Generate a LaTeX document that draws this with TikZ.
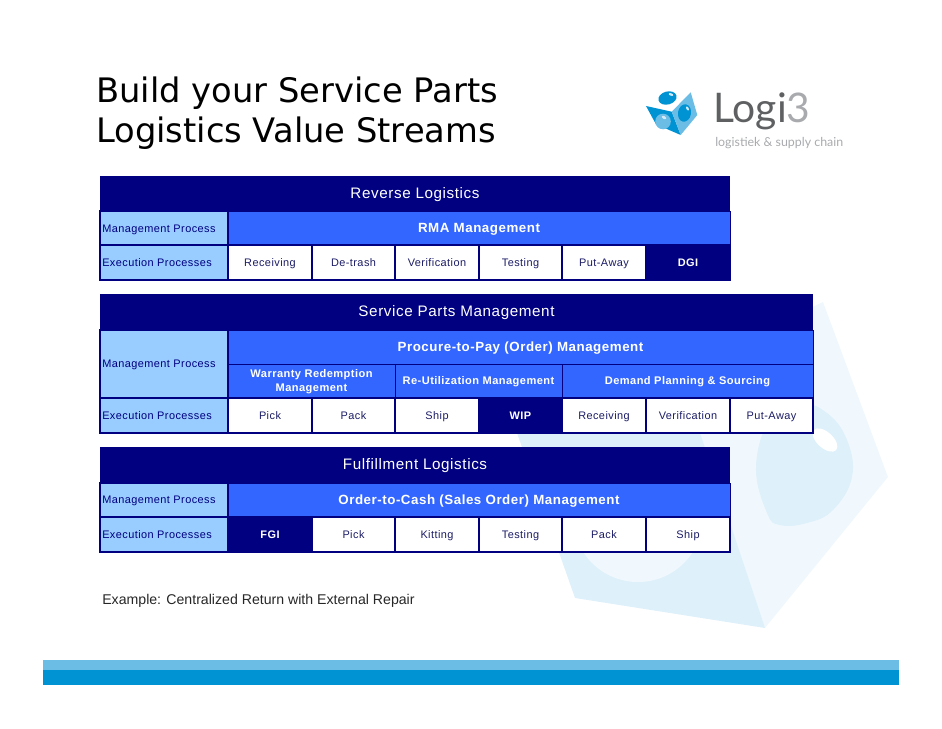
\documentclass[tikz,border=0pt]{standalone}
\usepackage{fontspec}
\setmainfont{Liberation Sans}
\newfontfamily\titlefont{DejaVu Sans}
\newfontfamily\cellfont[LetterSpace=4]{Liberation Sans}
\newfontfamily\logofont{Lato}
\definecolor{navyband}{HTML}{000080}
\definecolor{midband}{HTML}{3366FF}
\definecolor{paleband}{HTML}{99CCFF}
\definecolor{inktext}{HTML}{1C1C66}
\definecolor{washa}{HTML}{DEF0FA}
\definecolor{washb}{HTML}{F0F8FD}
\definecolor{barlight}{HTML}{6CBDE6}
\definecolor{bardark}{HTML}{0093D3}
\definecolor{logogrey}{HTML}{5F6062}
\definecolor{logopale}{HTML}{A8AAAD}
\tikzset{
  headcell/.style={fill=navyband},
  headtext/.style={text=white,font=\cellfont\fontsize{11.4}{13}\selectfont,inner sep=0pt,text height=8.4pt,text depth=2.4pt,yshift=-0.4pt},
  mgmtcell/.style={fill=midband,draw=navyband,line width=0.6pt},
  mgmttext/.style={text=white,font=\cellfont\bfseries\fontsize{10}{12}\selectfont,inner sep=0pt,text height=7.4pt,text depth=2.1pt,yshift=-0.7pt},
  subtext/.style={text=white,font=\cellfont\bfseries\fontsize{8.3}{10.8}\selectfont,inner sep=0pt,align=center,yshift=-0.5pt},
  labelcell/.style={fill=paleband,draw=navyband,line width=0.85pt},
  labeltext/.style={text=navyband,font=\cellfont\fontsize{8.2}{10}\selectfont,inner sep=0pt,anchor=west,text height=6.2pt,text depth=1.8pt,yshift=-1.2pt},
  whitecell/.style={fill=white,draw=navyband,line width=0.85pt},
  whitetext/.style={text=inktext,font=\cellfont\fontsize{8.2}{10}\selectfont,inner sep=0pt,text height=6.2pt,text depth=1.8pt,yshift=-0.8pt},
  darkcell/.style={fill=navyband,draw=navyband,line width=0.85pt},
  darktext/.style={text=white,font=\cellfont\bfseries\fontsize{8.2}{10}\selectfont,inner sep=0pt,text height=6.2pt,text depth=1.8pt,yshift=-0.8pt},
  titletext/.style={font=\titlefont\fontsize{25.3}{28}\selectfont,anchor=base west,inner sep=0pt}
}
\begin{document}
\begin{tikzpicture}[x=0.75pt,y=-0.75pt]
    \useasboundingbox (0,0) rectangle (942,728);

    \fill[washb] (823,302)--(888,477)--(765,628)--(690,420)--(700,360)--cycle;
    \fill[washa] (517,433)--(575,598)--(765,628)--(700,433)--cycle;
    \begin{scope}
      \clip (575,598)--(765,628)--(700,433)--(517,433)--cycle;
      \fill[washb] (638,517) circle (65);
    \end{scope}
    \fill[washa] plot[smooth cycle,tension=0.7] coordinates {(756,467) (767,513) (780,525) (807,523) (833,510) (852,477) (847,440) (827,413) (800,404) (770,420)};
    \fill[white] (825,440) ellipse [x radius=15,y radius=8,rotate=-42];

    \fill[barlight] (43,660) rectangle (899,670);
    \fill[bardark] (43,670) rectangle (899,685);

    \node[titletext] (title1) at (96,102) {Build your Service Parts};
    \node[titletext] (title2) at (96,142) {Logistics Value Streams};

    \fill[bardark] (646,106)--(671.7,111.7)--(680.7,135)--(656,124.3)--cycle;
    \fill[barlight] (671.7,111.7)--(690.7,92.3)--(697.3,115)--(680.7,135)--cycle;
    \fill[bardark] (667.5,98) ellipse [x radius=9.3,y radius=6.5,rotate=15];
    \fill[barlight] (663,121.5) circle (7.8);
    \fill[bardark] (684.5,113) ellipse [x radius=6.5,y radius=8.8,rotate=-10];
    \fill[white!70!barlight] (671,94.5) ellipse [x radius=2.4,y radius=1.2,rotate=-20];
    \fill[white!70!barlight] (664,117.5) ellipse [x radius=2.4,y radius=1.4,rotate=-30];
    \fill[white!70!barlight] (687.5,108.5) ellipse [x radius=1.2,y radius=2.2,rotate=30];
    \node[font=\logofont\fontsize{30.6}{32}\selectfont,text=logogrey,anchor=base west,inner sep=0pt] (logoname) at (713,122) {Logi\textcolor{logopale}{3}};
    \node[font=\logofont\fontsize{9.3}{11}\selectfont,text=logopale,anchor=base west,inner sep=0pt] (logotag) at (715,146) {logistiek \& supply chain};

    \path[headcell] (100,176) rectangle node[headtext] (revhead) {Reverse Logistics} (730,211);
    \path[mgmtcell] (228,211) rectangle node[mgmttext] (revmgmt) {RMA Management} (730,245);
    \path[labelcell] (100,211) rectangle (228,245);
    \path[labelcell] (100,245) rectangle (228,280);
    \node[labeltext] (revmlabel) at (102,228) {Management Process};
    \node[labeltext] (revelabel) at (102,262) {Execution Processes};
    \foreach \xa/\xb/\name in {228/312/Receiving,312/395/De-trash,395/479/Verification,479/562/Testing,562/646/Put-Away}
      \path[whitecell] (\xa,245) rectangle node[whitetext] (rev\name) {\name} (\xb,280);
    \path[darkcell] (646,245) rectangle node[darktext] (revdgi) {DGI} (730,280);

    \path[headcell] (100,294) rectangle node[headtext] (parthead) {Service Parts Management} (813,330);
    \path[mgmtcell] (228,330) rectangle node[mgmttext] (partmgmt) {Procure-to-Pay (Order) Management} (813,364);
    \path[mgmtcell] (228,364) rectangle node[subtext] (partwarr) {Warranty Redemption\\Management} (395,398);
    \path[mgmtcell] (395,364) rectangle node[subtext] (partreut) {Re-Utilization Management} (562,398);
    \path[mgmtcell] (562,364) rectangle node[subtext] (partdemand) {Demand Planning \& Sourcing} (813,398);
    \path[labelcell] (100,330) rectangle (228,398);
    \path[labelcell] (100,398) rectangle (228,433);
    \node[labeltext] (partmlabel) at (102,363) {Management Process};
    \node[labeltext] (partelabel) at (102,415) {Execution Processes};
    \foreach \xa/\xb/\name in {228/312/Pick,312/395/Pack,395/479/Ship,562/646/Receiving,646/730/Verification,730/813/Put-Away}
      \path[whitecell] (\xa,398) rectangle node[whitetext] (part\name) {\name} (\xb,433);
    \path[darkcell] (479,398) rectangle node[darktext] (partwip) {WIP} (562,433);

    \path[headcell] (100,447) rectangle node[headtext] (fulhead) {Fulfillment Logistics} (730,483);
    \path[mgmtcell] (228,483) rectangle node[mgmttext] (fulmgmt) {Order-to-Cash (Sales Order) Management} (730,517);
    \path[labelcell] (100,483) rectangle (228,517);
    \path[labelcell] (100,517) rectangle (228,552);
    \node[labeltext] (fulmlabel) at (102,499) {Management Process};
    \node[labeltext] (fulelabel) at (102,534) {Execution Processes};
    \path[darkcell] (228,517) rectangle node[darktext] (fulfgi) {FGI} (312,552);
    \foreach \xa/\xb/\name in {312/395/Pick,395/479/Kitting,479/562/Testing,562/646/Pack,646/730/Ship}
      \path[whitecell] (\xa,517) rectangle node[whitetext] (ful\name) {\name} (\xb,552);

    \node[font=\fontsize{10.6}{12}\selectfont,anchor=west,inner sep=0pt,text=black!85] (example) at (102,601) {Example: Centralized Return with External Repair};
  \end{tikzpicture}
\end{document}
